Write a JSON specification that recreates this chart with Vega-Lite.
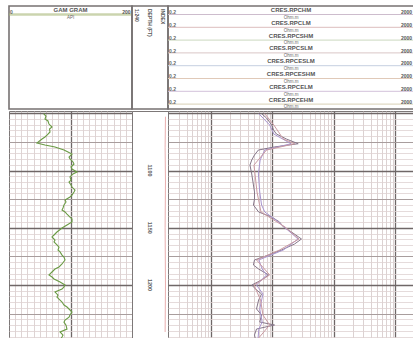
{
  "$schema": "https://vega.github.io/schema/vega-lite/v6.json",
  "background": "#ffffff",
  "padding": {"left": 6, "top": 5, "right": 0, "bottom": 0},
  "spacing": 0,
  "config": {
    "view": {"stroke": "#7d7878", "strokeWidth": 1},
    "font": "Liberation Sans",
    "concat": {"spacing": 0},
    "axis": {"labels": false, "ticks": false, "domain": false, "title": null, "grid": true}
  },
  "resolve": {"scale": {"x": "independent", "y": "independent", "color": "independent"}},
  "datasets": {
    "hdr": [
      {"track": "gr", "curve": "GAM GRAM", "unit": "API", "lo": 0, "hi": 200},
      {"track": "res", "curve": "CRES.RPCHM", "unit": "Ohm.m", "lo": 0.2, "hi": 2000},
      {"track": "res", "curve": "CRES.RPCLM", "unit": "Ohm.m", "lo": 0.2, "hi": 2000},
      {"track": "res", "curve": "CRES.RPCSHM", "unit": "Ohm.m", "lo": 0.2, "hi": 2000},
      {"track": "res", "curve": "CRES.RPCSLM", "unit": "Ohm.m", "lo": 0.2, "hi": 2000},
      {"track": "res", "curve": "CRES.RPCESLM", "unit": "Ohm.m", "lo": 0.2, "hi": 2000},
      {"track": "res", "curve": "CRES.RPCESHM", "unit": "Ohm.m", "lo": 0.2, "hi": 2000},
      {"track": "res", "curve": "CRES.RPCELM", "unit": "Ohm.m", "lo": 0.2, "hi": 2000},
      {"track": "res", "curve": "CRES.RPCEHM", "unit": "Ohm.m", "lo": 0.2, "hi": 2000}
    ],
    "depthHdr": [
      {"label": "1:240"},
      {"label": "DEPTH (FT)"},
      {"label": "INDEX"}
    ],
    "depthMarks": [
      {"depth": 1100}, {"depth": 1150}, {"depth": 1200}
    ],
    "tension": [
      {"depth": 1053, "v": 0.93}, {"depth": 1080, "v": 0.92}, {"depth": 1110, "v": 0.93},
      {"depth": 1150, "v": 0.92}, {"depth": 1200, "v": 0.93}, {"depth": 1241, "v": 0.92}
    ],
    "gr": [
      {"depth": 1050.4, "gr": 56.4}, {"depth": 1052.4, "gr": 60.2}, {"depth": 1055.0, "gr": 58.5},
      {"depth": 1056.7, "gr": 63.4}, {"depth": 1059.4, "gr": 65.0}, {"depth": 1062.0, "gr": 69.9},
      {"depth": 1063.7, "gr": 65.9}, {"depth": 1066.3, "gr": 66.7}, {"depth": 1069.0, "gr": 61.8},
      {"depth": 1070.7, "gr": 58.5}, {"depth": 1072.5, "gr": 53.7}, {"depth": 1075.9, "gr": 45.5},
      {"depth": 1077.7, "gr": 58.5}, {"depth": 1079.4, "gr": 74.8}, {"depth": 1082.1, "gr": 89.4},
      {"depth": 1083.8, "gr": 95.9}, {"depth": 1085.6, "gr": 102.4}, {"depth": 1088.2, "gr": 97.6},
      {"depth": 1089.9, "gr": 99.2}, {"depth": 1092.5, "gr": 104.1}, {"depth": 1094.3, "gr": 105.7},
      {"depth": 1096.9, "gr": 100.8}, {"depth": 1098.7, "gr": 102.4}, {"depth": 1101.3, "gr": 110.6},
      {"depth": 1103.0, "gr": 104.1}, {"depth": 1105.6, "gr": 99.2}, {"depth": 1108.3, "gr": 100.8},
      {"depth": 1110.0, "gr": 97.6}, {"depth": 1112.6, "gr": 100.8}, {"depth": 1114.4, "gr": 102.4},
      {"depth": 1117.0, "gr": 107.3}, {"depth": 1118.7, "gr": 105.7}, {"depth": 1121.4, "gr": 102.4},
      {"depth": 1123.1, "gr": 99.2}, {"depth": 1125.7, "gr": 91.1}, {"depth": 1127.5, "gr": 92.7},
      {"depth": 1130.1, "gr": 89.4}, {"depth": 1132.7, "gr": 87.8}, {"depth": 1134.5, "gr": 86.2},
      {"depth": 1136.2, "gr": 91.1}, {"depth": 1138.0, "gr": 94.3}, {"depth": 1140.6, "gr": 99.2},
      {"depth": 1142.3, "gr": 102.4}, {"depth": 1144.9, "gr": 102.4}, {"depth": 1147.6, "gr": 94.3},
      {"depth": 1150.2, "gr": 86.2}, {"depth": 1153.7, "gr": 78.0}, {"depth": 1156.3, "gr": 73.2},
      {"depth": 1158.0, "gr": 69.9}, {"depth": 1160.7, "gr": 74.8}, {"depth": 1162.4, "gr": 73.2},
      {"depth": 1165.0, "gr": 78.0}, {"depth": 1166.8, "gr": 81.3}, {"depth": 1169.4, "gr": 79.7},
      {"depth": 1171.1, "gr": 83.0}, {"depth": 1173.8, "gr": 86.2}, {"depth": 1175.5, "gr": 89.4},
      {"depth": 1178.1, "gr": 91.1}, {"depth": 1181.6, "gr": 86.2}, {"depth": 1184.2, "gr": 81.3},
      {"depth": 1186.0, "gr": 74.8}, {"depth": 1188.6, "gr": 69.9}, {"depth": 1191.2, "gr": 65.0},
      {"depth": 1193.0, "gr": 69.9}, {"depth": 1194.7, "gr": 73.2}, {"depth": 1197.3, "gr": 83.0},
      {"depth": 1200.0, "gr": 91.1}, {"depth": 1201.7, "gr": 89.4}, {"depth": 1203.5, "gr": 86.2},
      {"depth": 1206.1, "gr": 74.8}, {"depth": 1208.7, "gr": 79.7}, {"depth": 1210.5, "gr": 78.0},
      {"depth": 1213.1, "gr": 83.0}, {"depth": 1214.8, "gr": 86.2}, {"depth": 1217.5, "gr": 89.4},
      {"depth": 1219.2, "gr": 94.3}, {"depth": 1221.8, "gr": 99.2}, {"depth": 1223.6, "gr": 102.4},
      {"depth": 1226.2, "gr": 99.2}, {"depth": 1228.0, "gr": 97.6}, {"depth": 1230.6, "gr": 91.1},
      {"depth": 1232.4, "gr": 89.4}, {"depth": 1235.0, "gr": 92.7}, {"depth": 1238.5, "gr": 94.3},
      {"depth": 1241.0, "gr": 83.0}, {"depth": 1243.7, "gr": 87.8}, {"depth": 1245.4, "gr": 86.2},
      {"depth": 1248.0, "gr": 83.0}
    ],
    "res": [
      {"curve": "CRES.RPCHM", "depth": 1050.4, "ohmm": 6.65},
      {"curve": "CRES.RPCHM", "depth": 1054.1, "ohmm": 8.0},
      {"curve": "CRES.RPCHM", "depth": 1060.2, "ohmm": 9.7},
      {"curve": "CRES.RPCHM", "depth": 1064.6, "ohmm": 10.4},
      {"curve": "CRES.RPCHM", "depth": 1068.1, "ohmm": 11.6},
      {"curve": "CRES.RPCHM", "depth": 1072.5, "ohmm": 16.9},
      {"curve": "CRES.RPCHM", "depth": 1076.6, "ohmm": 26.2},
      {"curve": "CRES.RPCHM", "depth": 1079.4, "ohmm": 10.8},
      {"curve": "CRES.RPCHM", "depth": 1082.1, "ohmm": 5.9},
      {"curve": "CRES.RPCHM", "depth": 1086.4, "ohmm": 5.1},
      {"curve": "CRES.RPCHM", "depth": 1090.8, "ohmm": 4.6},
      {"curve": "CRES.RPCHM", "depth": 1095.2, "ohmm": 4.3},
      {"curve": "CRES.RPCHM", "depth": 1103.0, "ohmm": 4.6},
      {"curve": "CRES.RPCHM", "depth": 1112.6, "ohmm": 4.9},
      {"curve": "CRES.RPCHM", "depth": 1118.7, "ohmm": 5.1},
      {"curve": "CRES.RPCHM", "depth": 1124.9, "ohmm": 5.1},
      {"curve": "CRES.RPCHM", "depth": 1130.1, "ohmm": 4.9},
      {"curve": "CRES.RPCHM", "depth": 1136.2, "ohmm": 5.95},
      {"curve": "CRES.RPCHM", "depth": 1140.6, "ohmm": 9.7},
      {"curve": "CRES.RPCHM", "depth": 1143.2, "ohmm": 11.6},
      {"curve": "CRES.RPCHM", "depth": 1144.9, "ohmm": 13.0},
      {"curve": "CRES.RPCHM", "depth": 1149.3, "ohmm": 15.1},
      {"curve": "CRES.RPCHM", "depth": 1153.7, "ohmm": 20.4},
      {"curve": "CRES.RPCHM", "depth": 1159.8, "ohmm": 29.6},
      {"curve": "CRES.RPCHM", "depth": 1164.2, "ohmm": 22.8},
      {"curve": "CRES.RPCHM", "depth": 1169.4, "ohmm": 14.0},
      {"curve": "CRES.RPCHM", "depth": 1173.8, "ohmm": 8.65},
      {"curve": "CRES.RPCHM", "depth": 1178.1, "ohmm": 5.1},
      {"curve": "CRES.RPCHM", "depth": 1182.5, "ohmm": 4.9},
      {"curve": "CRES.RPCHM", "depth": 1186.0, "ohmm": 5.95},
      {"curve": "CRES.RPCHM", "depth": 1191.2, "ohmm": 8.65},
      {"curve": "CRES.RPCHM", "depth": 1195.6, "ohmm": 6.65},
      {"curve": "CRES.RPCHM", "depth": 1200.0, "ohmm": 4.6},
      {"curve": "CRES.RPCHM", "depth": 1204.3, "ohmm": 5.5},
      {"curve": "CRES.RPCHM", "depth": 1207.8, "ohmm": 6.65},
      {"curve": "CRES.RPCHM", "depth": 1213.1, "ohmm": 5.95},
      {"curve": "CRES.RPCHM", "depth": 1220.9, "ohmm": 5.5},
      {"curve": "CRES.RPCHM", "depth": 1226.2, "ohmm": 6.65},
      {"curve": "CRES.RPCHM", "depth": 1232.3, "ohmm": 6.2},
      {"curve": "CRES.RPCHM", "depth": 1234.9, "ohmm": 10.8},
      {"curve": "CRES.RPCHM", "depth": 1238.4, "ohmm": 5.5},
      {"curve": "CRES.RPCHM", "depth": 1243.6, "ohmm": 5.1},
      {"curve": "CRES.RPCHM", "depth": 1248.0, "ohmm": 5.3},
      {"curve": "CRES.RPCSHM", "depth": 1050.4, "ohmm": 6.0},
      {"curve": "CRES.RPCSHM", "depth": 1060.2, "ohmm": 9.0},
      {"curve": "CRES.RPCSHM", "depth": 1068.1, "ohmm": 10.5},
      {"curve": "CRES.RPCSHM", "depth": 1076.6, "ohmm": 20.0},
      {"curve": "CRES.RPCSHM", "depth": 1082.1, "ohmm": 7.5},
      {"curve": "CRES.RPCSHM", "depth": 1090.8, "ohmm": 6.3},
      {"curve": "CRES.RPCSHM", "depth": 1103.0, "ohmm": 5.9},
      {"curve": "CRES.RPCSHM", "depth": 1118.7, "ohmm": 6.2},
      {"curve": "CRES.RPCSHM", "depth": 1130.1, "ohmm": 6.65},
      {"curve": "CRES.RPCSHM", "depth": 1136.2, "ohmm": 7.5},
      {"curve": "CRES.RPCSHM", "depth": 1144.9, "ohmm": 12.5},
      {"curve": "CRES.RPCSHM", "depth": 1159.8, "ohmm": 26.0},
      {"curve": "CRES.RPCSHM", "depth": 1169.4, "ohmm": 15.0},
      {"curve": "CRES.RPCSHM", "depth": 1178.1, "ohmm": 6.0},
      {"curve": "CRES.RPCSHM", "depth": 1186.0, "ohmm": 6.8},
      {"curve": "CRES.RPCSHM", "depth": 1191.2, "ohmm": 8.0},
      {"curve": "CRES.RPCSHM", "depth": 1200.0, "ohmm": 5.5},
      {"curve": "CRES.RPCSHM", "depth": 1207.8, "ohmm": 7.0},
      {"curve": "CRES.RPCSHM", "depth": 1220.9, "ohmm": 6.2},
      {"curve": "CRES.RPCSHM", "depth": 1232.3, "ohmm": 6.8},
      {"curve": "CRES.RPCSHM", "depth": 1238.4, "ohmm": 6.0},
      {"curve": "CRES.RPCSHM", "depth": 1248.0, "ohmm": 5.8},
      {"curve": "CRES.RPCEHM", "depth": 1050.4, "ohmm": 7.5},
      {"curve": "CRES.RPCEHM", "depth": 1060.2, "ohmm": 10.5},
      {"curve": "CRES.RPCEHM", "depth": 1072.5, "ohmm": 15.0},
      {"curve": "CRES.RPCEHM", "depth": 1076.6, "ohmm": 23.0},
      {"curve": "CRES.RPCEHM", "depth": 1082.1, "ohmm": 8.0},
      {"curve": "CRES.RPCEHM", "depth": 1095.2, "ohmm": 5.0},
      {"curve": "CRES.RPCEHM", "depth": 1118.7, "ohmm": 5.6},
      {"curve": "CRES.RPCEHM", "depth": 1136.2, "ohmm": 6.5},
      {"curve": "CRES.RPCEHM", "depth": 1149.3, "ohmm": 16.0},
      {"curve": "CRES.RPCEHM", "depth": 1159.8, "ohmm": 27.0},
      {"curve": "CRES.RPCEHM", "depth": 1169.4, "ohmm": 13.0},
      {"curve": "CRES.RPCEHM", "depth": 1178.1, "ohmm": 5.5},
      {"curve": "CRES.RPCEHM", "depth": 1191.2, "ohmm": 9.0},
      {"curve": "CRES.RPCEHM", "depth": 1200.0, "ohmm": 5.0},
      {"curve": "CRES.RPCEHM", "depth": 1213.1, "ohmm": 6.4},
      {"curve": "CRES.RPCEHM", "depth": 1226.2, "ohmm": 7.0},
      {"curve": "CRES.RPCEHM", "depth": 1234.9, "ohmm": 9.0},
      {"curve": "CRES.RPCEHM", "depth": 1248.0, "ohmm": 5.6}
    ]
  },
  "vconcat": [
    {
      "spacing": 0,
      "bounds": "flush",
      "resolve": {"scale": {"x": "independent", "y": "independent", "color": "independent"}},
      "hconcat": [
        {
          "width": 123,
          "height": 103,
          "view": {"stroke": "#777272", "strokeWidth": 1.6},
          "data": {"name": "hdr"},
          "transform": [{"filter": "datum.track === 'gr'"}],
          "encoding": {
            "y": {"field": "curve", "type": "nominal", "sort": null, "scale": {"type": "point", "range": [8.5, 98.1], "padding": 0, "align": 0}, "axis": null}
          },
          "layer": [
            {"mark": {"type": "rule", "color": "#a9b878", "strokeWidth": 2.5, "opacity": 0.6}},
            {"mark": {"type": "text", "dy": -4.5, "fontSize": 6, "fontWeight": "bold", "color": "#555555"},
             "encoding": {"text": {"field": "curve", "type": "nominal"}}},
            {"mark": {"type": "text", "dy": 3.3, "fontSize": 4.5, "color": "#666666"},
             "encoding": {"text": {"field": "unit", "type": "nominal"}}},
            {"mark": {"type": "text", "dy": -2.3, "dx": 1, "align": "left", "fontSize": 5, "fontWeight": "bold", "color": "#666666"},
             "encoding": {
               "x": {"field": "lo", "type": "quantitative", "scale": {"domain": [0, 200], "nice": false, "zero": false}, "axis": null},
               "text": {"field": "lo", "type": "nominal"}}},
            {"mark": {"type": "text", "dy": -2.3, "dx": -1.5, "align": "right", "fontSize": 5, "fontWeight": "bold", "color": "#555555"},
             "encoding": {
               "x": {"field": "hi", "type": "quantitative", "scale": {"domain": [0, 200], "nice": false, "zero": false}, "axis": null},
               "text": {"field": "hi", "type": "nominal"}}}
          ]
        },
        {
          "width": 36,
          "height": 103,
          "view": {"stroke": "#777272", "strokeWidth": 1.6},
          "data": {"name": "depthHdr"},
          "mark": {"type": "text", "angle": 90, "align": "left", "baseline": "middle", "fontSize": 5, "fontWeight": "bold", "color": "#555555"},
          "encoding": {
            "x": {"field": "label", "type": "nominal", "sort": null, "scale": {"type": "point", "padding": 0.4}, "axis": null},
            "y": {"datum": 3, "type": "quantitative", "scale": {"domain": [0, 103], "reverse": true}, "axis": null},
            "text": {"field": "label", "type": "nominal"}
          }
        },
        {
          "width": 246,
          "height": 103,
          "view": {"stroke": "#777272", "strokeWidth": 1.6},
          "data": {"name": "hdr"},
          "transform": [{"filter": "datum.track === 'res'"}],
          "encoding": {
            "y": {"field": "curve", "type": "nominal", "sort": null, "scale": {"type": "point", "range": [8.5, 98.1], "padding": 0, "align": 0}, "axis": null}
          },
          "layer": [
            {"mark": {"type": "rule", "strokeWidth": 1},
             "encoding": {"color": {"field": "curve", "type": "nominal", "sort": null, "legend": null,
               "scale": {"range": ["#cdbccd", "#ddbdbd", "#cbd8bf", "#d9c6c6", "#c5cfe0", "#e0c9b8", "#d2c1da", "#d8d0b6"]}}}},
            {"mark": {"type": "text", "dy": -4.5, "fontSize": 6, "fontWeight": "bold", "color": "#555555"},
             "encoding": {"text": {"field": "curve", "type": "nominal"}}},
            {"mark": {"type": "text", "dy": 3.3, "fontSize": 4.5, "color": "#666666"},
             "encoding": {"text": {"field": "unit", "type": "nominal"}}},
            {"mark": {"type": "text", "dy": -2.3, "dx": 1, "align": "left", "fontSize": 5, "fontWeight": "bold", "color": "#666666"},
             "encoding": {
               "x": {"field": "lo", "type": "quantitative", "scale": {"type": "log", "domain": [0.2, 2000], "nice": false}, "axis": null},
               "text": {"field": "lo", "type": "nominal"}}},
            {"mark": {"type": "text", "dy": -2.3, "dx": -2, "align": "right", "fontSize": 5, "fontWeight": "bold", "color": "#555555"},
             "encoding": {
               "x": {"field": "hi", "type": "quantitative", "scale": {"type": "log", "domain": [0.2, 2000], "nice": false}, "axis": null},
               "text": {"field": "hi", "type": "nominal"}}}
          ]
        }
      ]
    },
    {
      "spacing": 0,
      "bounds": "flush",
      "resolve": {"scale": {"x": "independent", "y": "independent", "color": "independent"}},
      "hconcat": [
        {
          "width": 123,
          "height": 229,
          "data": {"name": "gr"},
          "mark": {"type": "line", "color": "#6b9b45", "strokeWidth": 1.1},
          "encoding": {
            "x": {
              "field": "gr", "type": "quantitative",
              "scale": {"domain": [0, 200], "nice": false, "zero": false},
              "axis": {
                "values": [10, 20, 30, 40, 50, 60, 70, 80, 90, 100, 110, 120, 130, 140, 150, 160, 170, 180, 190],
                "gridColor": {"condition": {"test": "datum.value === 100", "value": "#6f6767"}, "value": "#d6c9c9"},
                "gridWidth": {"condition": {"test": "datum.value === 100", "value": 1.3}, "value": 0.8}
              }
            },
            "y": {
              "field": "depth", "type": "quantitative",
              "scale": {"domain": [1048, 1248], "reverse": true, "nice": false, "zero": false},
              "axis": {
                "values": [1050, 1055, 1060, 1065, 1070, 1075, 1080, 1085, 1090, 1095, 1100, 1105, 1110, 1115, 1120, 1125, 1130, 1135, 1140, 1145, 1150, 1155, 1160, 1165, 1170, 1175, 1180, 1185, 1190, 1195, 1200, 1205, 1210, 1215, 1220, 1225, 1230, 1235, 1240, 1245],
                "gridColor": {"condition": [{"test": "datum.value % 50 === 0", "value": "#6f6767"}, {"test": "datum.value % 25 === 0", "value": "#a89d9d"}], "value": "#ded2d2"},
                "gridWidth": {"condition": [{"test": "datum.value % 50 === 0", "value": 1.3}, {"test": "datum.value % 25 === 0", "value": 1}], "value": 0.8}
              }
            },
            "order": {"field": "depth", "type": "quantitative"}
          }
        },
        {
          "width": 36,
          "height": 229,
          "layer": [
            {
              "data": {"name": "tension"},
              "mark": {"type": "line", "color": "#e39a9a", "strokeWidth": 1, "opacity": 0.8},
              "encoding": {
                "x": {"field": "v", "type": "quantitative", "scale": {"domain": [0, 1]}, "axis": null},
                "y": {"field": "depth", "type": "quantitative", "scale": {"domain": [1048, 1248], "reverse": true, "nice": false, "zero": false}, "axis": null},
                "order": {"field": "depth", "type": "quantitative"}
              }
            },
            {
              "data": {"name": "depthMarks"},
              "mark": {"type": "text", "angle": 90, "align": "center", "baseline": "middle", "fontSize": 5.5, "fontWeight": "bold", "color": "#5e5e5e"},
              "encoding": {
                "y": {"field": "depth", "type": "quantitative", "axis": null},
                "text": {"field": "depth", "type": "nominal"}
              }
            }
          ]
        },
        {
          "width": 246,
          "height": 229,
          "data": {"name": "res"},
          "mark": {"type": "line", "strokeWidth": 1},
          "encoding": {
            "x": {
              "field": "ohmm", "type": "quantitative",
              "scale": {"type": "log", "domain": [0.2, 2000], "nice": false},
              "axis": {
                "values": [0.3, 0.4, 0.5, 0.6, 0.7, 0.8, 0.9, 1, 2, 3, 4, 5, 6, 7, 8, 9, 10, 20, 30, 40, 50, 60, 70, 80, 90, 100, 200, 300, 400, 500, 600, 700, 800, 900, 1000],
                "gridColor": {"condition": {"test": "datum.value === 1 || datum.value === 10 || datum.value === 100 || datum.value === 1000", "value": "#6f6767"}, "value": "#d3c6c6"},
                "gridWidth": {"condition": {"test": "datum.value === 1 || datum.value === 10 || datum.value === 100 || datum.value === 1000", "value": 1.3}, "value": 0.8}
              }
            },
            "y": {
              "field": "depth", "type": "quantitative",
              "scale": {"domain": [1048, 1248], "reverse": true, "nice": false, "zero": false},
              "axis": {
                "values": [1050, 1055, 1060, 1065, 1070, 1075, 1080, 1085, 1090, 1095, 1100, 1105, 1110, 1115, 1120, 1125, 1130, 1135, 1140, 1145, 1150, 1155, 1160, 1165, 1170, 1175, 1180, 1185, 1190, 1195, 1200, 1205, 1210, 1215, 1220, 1225, 1230, 1235, 1240, 1245],
                "gridColor": {"condition": [{"test": "datum.value % 50 === 0", "value": "#6f6767"}, {"test": "datum.value % 25 === 0", "value": "#a89d9d"}], "value": "#ded2d2"},
                "gridWidth": {"condition": [{"test": "datum.value % 50 === 0", "value": 1.3}, {"test": "datum.value % 25 === 0", "value": 1}], "value": 0.8}
              }
            },
            "color": {"field": "curve", "type": "nominal", "legend": null,
              "scale": {"domain": ["CRES.RPCHM", "CRES.RPCSHM", "CRES.RPCEHM"], "range": ["#857689", "#a895cf", "#c99aa2"]}},
            "order": {"field": "depth", "type": "quantitative"}
          }
        }
      ]
    }
  ]
}
